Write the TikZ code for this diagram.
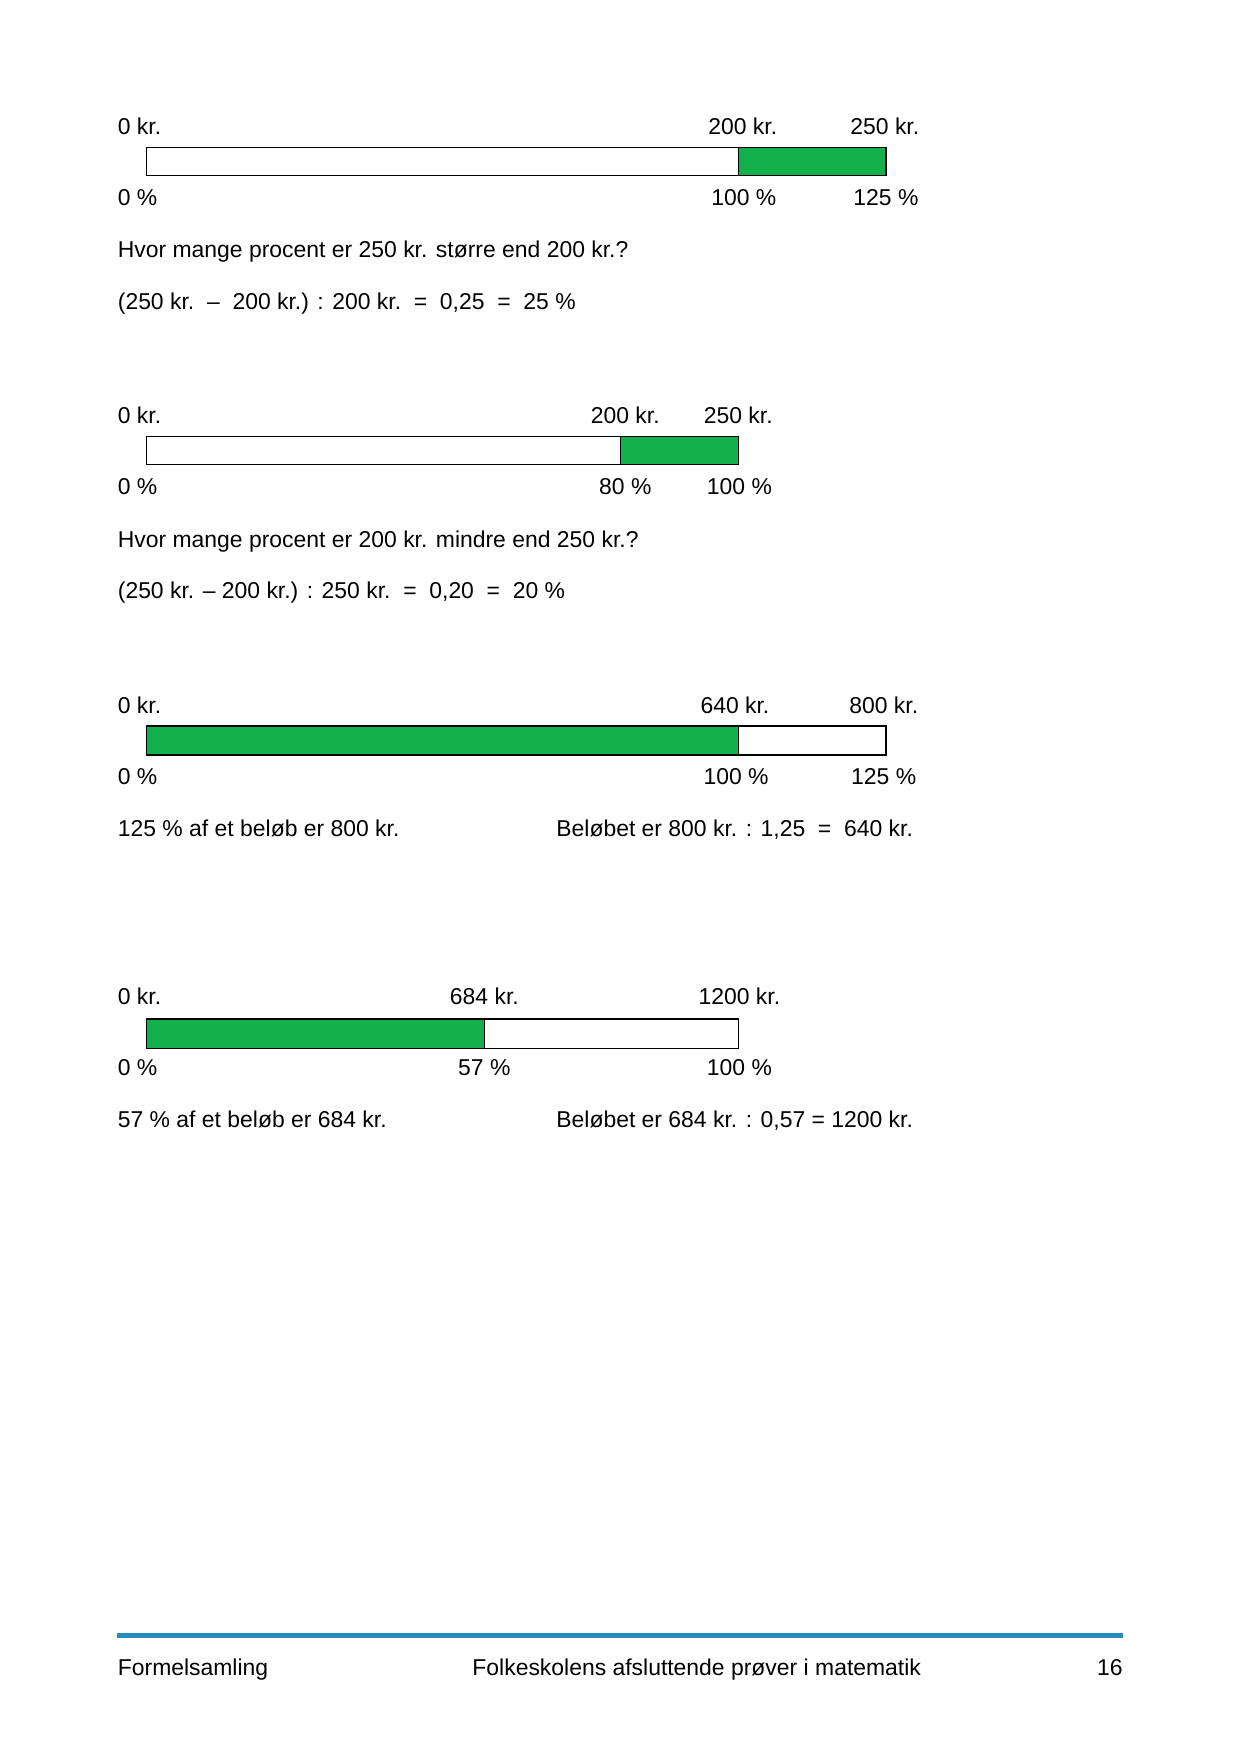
\documentclass[tikz,border=0pt]{standalone}
\usepackage{fontspec}
\setmainfont{Liberation Sans}
\usepackage{tikz}
\usetikzlibrary{positioning, calc}
\usepackage{xcolor}
\definecolor{bargreen}{RGB}{20,176,75}
\definecolor{footblue}{RGB}{41,138,188}

\begin{document}
\begin{tikzpicture}[x=0.53677pt, y=-0.53677pt,
    every node/.style={inner sep=0pt, font=\fontsize{11}{13}\selectfont},
    lbl/.style={anchor=base},
    txt/.style={anchor=base west},
    barbox/.style={draw=black, line width=0.6pt},
    barfill/.style={fill=bargreen, draw=black, line width=0.6pt}]
  \useasboundingbox (0,0) rectangle (1109,1568);

  % 200 kr. -> 250 kr.
  \node[txt] (akr0) at (105,120) {0 kr.};
  \node[lbl] (akr200) at (664,120) {200 kr.};
  \node[lbl] (akr250) at (791,120) {250 kr.};
  \draw[barbox] (131,132) rectangle (792,157);
  \draw[barfill] (660,132) rectangle (792,157);
  \node[txt] (apct0) at (105,184) {0 \%};
  \node[lbl] (apct100) at (665,184) {100 \%};
  \node[lbl] (apct125) at (792,184) {125 \%};
  \node[txt] (aq) at (105,230) {Hvor mange procent er 250 kr. større end 200 kr.?};
  \node[txt] (acalc) at (105,277) {(250 kr.\ \ –\ \ 200 kr.) : 200 kr.\ \ =\ \ 0,25\ \ =\ \ 25 \%};

  % 250 kr. -> 200 kr.
  \node[txt] (bkr0) at (105,379) {0 kr.};
  \node[lbl] (bkr200) at (559,379) {200 kr.};
  \node[lbl] (bkr250) at (660,379) {250 kr.};
  \draw[barbox] (131,390) rectangle (660,415);
  \draw[barfill] (555,390) rectangle (660,415);
  \node[txt] (bpct0) at (105,442) {0 \%};
  \node[lbl] (bpct80) at (559,442) {80 \%};
  \node[lbl] (bpct100) at (661,442) {100 \%};
  \node[txt] (bq) at (105,489) {Hvor mange procent er 200 kr. mindre end 250 kr.?};
  \node[txt] (bcalc) at (105,535) {(250 kr. – 200 kr.) : 250 kr.\ \ =\ \ 0,20\ \ =\ \ 20 \%};

  % 125 % = 800 kr.
  \node[txt] (ckr0) at (105,638) {0 kr.};
  \node[lbl] (ckr640) at (657,638) {640 kr.};
  \node[lbl] (ckr800) at (790,638) {800 kr.};
  \draw[barbox] (131,649) rectangle (792,675);
  \draw[barfill] (131,649) rectangle (660,675);
  \node[txt] (cpct0) at (105,701) {0 \%};
  \node[lbl] (cpct100) at (658,701) {100 \%};
  \node[lbl] (cpct125) at (790,701) {125 \%};
  \node[txt] (ctext) at (105,748) {125 \% af et beløb er 800 kr.};
  \node[txt] (ccalc) at (497,748) {Beløbet er 800 kr. : 1,25\ \ =\ \ 640 kr.};

  % 57 % = 684 kr.
  \node[txt] (dkr0) at (105,898) {0 kr.};
  \node[lbl] (dkr684) at (433,898) {684 kr.};
  \node[lbl] (dkr1200) at (661,898) {1200 kr.};
  \draw[barbox] (131,911) rectangle (660,937);
  \draw[barfill] (131,911) rectangle (433,937);
  \node[txt] (dpct0) at (105,961) {0 \%};
  \node[lbl] (dpct57) at (433,961) {57 \%};
  \node[lbl] (dpct100) at (661,961) {100 \%};
  \node[txt] (dtext) at (105,1008) {57 \% af et beløb er 684 kr.};
  \node[txt] (dcalc) at (497,1008) {Beløbet er 684 kr. : 0,57 = 1200 kr.};

  % footer
  \fill[footblue] (105,1459.5) rectangle (1004,1464.5);
  \node[txt] (fleft) at (105,1498) {Formelsamling};
  \node[txt] (fmid) at (422,1498) {Folkeskolens afsluttende prøver i matematik};
  \node[anchor=base east] (fpage) at (1004,1498) {16};
\end{tikzpicture}
\end{document}
